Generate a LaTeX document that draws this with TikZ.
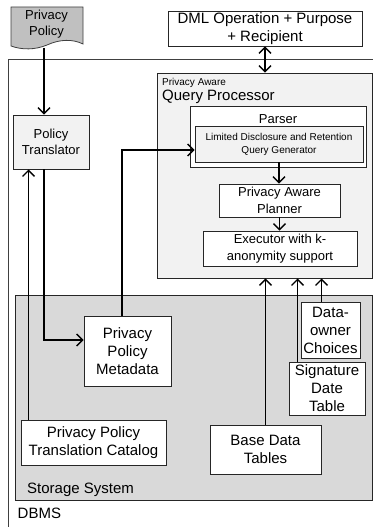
\documentclass[tikz,border=0pt]{standalone}
\usepackage{fontspec}
\setmainfont{Liberation Sans}
\usetikzlibrary{arrows.meta}
\definecolor{lightfill}{HTML}{F2F2F2}
\definecolor{storefill}{HTML}{D9D9D9}
\definecolor{docfill}{HTML}{C0C0C0}
\definecolor{edge}{HTML}{404040}
\tikzset{
  box/.style={draw=black!85, line width=0.8pt, fill=white, inner sep=0pt, align=center},
  big/.style={font=\fontsize{15}{18}\selectfont},
  mid/.style={font=\fontsize{13}{16.5}\selectfont},
  small/.style={font=\fontsize{10}{13}\selectfont},
  tipv/.tip={Straight Barb[length=6pt,width=12pt,line width=1.4pt]},
  arr/.style={line width=1.5pt, -tipv},
  arrtwo/.style={line width=1.5pt, tipv-tipv},
}
\begin{document}
\begin{tikzpicture}[x=1pt,y=-1pt]
\useasboundingbox (0,0) rectangle (373,527);
% DBMS outer frame (cut by the picture edges)
\draw[edge, line width=0.8pt] (8,527) -- (8,59) -- (373,59);
% Privacy Policy document
\draw[edge, line width=0.8pt, fill=docfill] (11,7) -- (83,7) -- (83,44)
  .. controls (73,39) and (60,39) .. (47,45)
  .. controls (35,50) and (22,50) .. (11,46) -- cycle;
\node[mid, align=center] (doc) at (46.5,24) {Privacy\\Policy};
\coordinate (docb) at (44,48);
% DML
\node[box, big, minimum width=194pt, minimum height=35pt] (dml) at (265,28.5) {DML Operation + Purpose\\+ Recipient};
% Query processor
\node[box, fill=lightfill, minimum width=215pt, minimum height=205pt] (qp) at (264.5,175.5) {};
\node[small, anchor=base west, inner sep=0pt] (qplab1) at (162,85) {Privacy Aware};
\node[big, anchor=base west, inner sep=0pt] (qplab2) at (162,100.5) {Query Processor};
\node[box, minimum width=176pt, minimum height=61pt] (parser) at (278,136.5) {};
\node[mid, inner sep=0pt] (parserlab) at (278,119) {Parser};
\node[box, small, fill=lightfill, minimum width=168pt, minimum height=36pt] (ldr) at (279,144) {Limited Disclosure and Retention\\Query Generator};
\node[box, mid, minimum width=121pt, minimum height=33pt] (planner) at (279.5,200.5) {Privacy Aware\\Planner};
\node[box, mid, minimum width=154pt, minimum height=35pt] (exec) at (280,248.5) {Executor with k-\\anonymity support};
% Policy translator
\node[box, mid, fill=lightfill, minimum width=76pt, minimum height=54pt] (pt) at (51,142) {Policy\\Translator};
% Storage system
\node[box, fill=storefill, minimum width=357pt, minimum height=205pt] (storage) at (193.5,397.5) {};
\node[big, anchor=base west, inner sep=0pt] (storlab) at (27,493) {Storage System};
\node[big, anchor=base west, inner sep=0pt] (dbmslab) at (17.5,518) {DBMS};
\node[box, big, minimum width=87pt, minimum height=70pt] (ppm) at (127.5,351) {Privacy\\Policy\\Metadata};
\node[box, big, minimum width=145pt, minimum height=45pt] (pptc) at (93.5,442.5) {Privacy Policy\\Translation Catalog};
\node[box, big, minimum width=111pt, minimum height=49pt] (bdt) at (265.5,449.5) {Base Data\\Tables};
\node[box, big, minimum width=76pt, minimum height=53pt] (sdt) at (327,388.5) {Signature\\Date\\Table};
\node[box, big, minimum width=59pt, minimum height=56pt] (doc2) at (330.5,330) {Data-\\owner\\Choices};
% Connectors
\draw[arr] (docb) -- (docb |- pt.north);
\draw[arr] ([xshift=-7pt]pt.south) |- ([yshift=11pt]ppm.west);
\draw[arr] ([xshift=8pt]pptc.north west) -- ([xshift=8pt]pptc.north west |- pt.south);
\draw[arr] ([xshift=-5.5pt]ppm.north) |- ([yshift=-6pt]ldr.west);
\draw[arrtwo] (dml.south) -- (dml.south |- qp.north);
\draw[arr] (ldr.south) -- (ldr.south |- planner.north);
\draw[arr] (planner.south) -- (planner.south |- exec.north);
\draw[arr] (bdt.north) -- (bdt.north |- qp.south);
\draw[arr] ([xshift=9pt]sdt.north west) -- ([xshift=9pt]sdt.north west |- qp.south);
\draw[arr] ([xshift=21pt]doc2.north west) -- ([xshift=21pt]doc2.north west |- qp.south);
\end{tikzpicture}
\end{document}
